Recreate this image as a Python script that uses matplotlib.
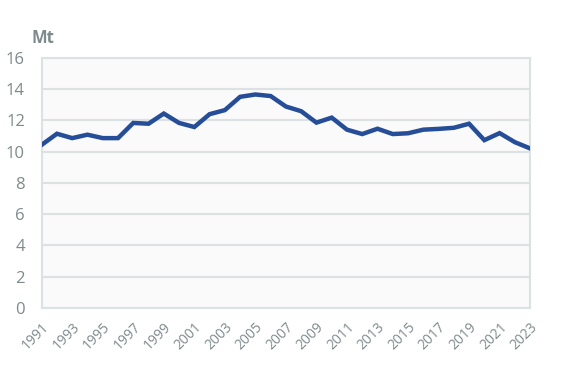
import matplotlib
matplotlib.use("Agg")
import matplotlib.pyplot as plt
from matplotlib.transforms import ScaledTranslation

years = list(range(1991, 2024))
values = [10.43, 11.14, 10.86, 11.08, 10.86, 10.86, 11.83, 11.78, 12.43, 11.83,
          11.57, 12.39, 12.65, 13.5, 13.65, 13.55, 12.88, 12.58, 11.85, 12.17,
          11.4, 11.12, 11.46, 11.12, 11.17, 11.4, 11.45, 11.52, 11.78, 10.73,
          11.18, 10.6, 10.2]
xtick_years = list(range(1991, 2024, 2))
yticks = list(range(0, 17, 2))
unit_label = "Mt"

plt.rcParams['font.family'] = ['Open Sans', 'DejaVu Sans']
grey = "#7F8A8C"
gridc = "#DCE1E3"

fig = plt.figure(figsize=(5.67, 3.69), dpi=100)
ax = fig.add_axes([0.0735, 0.1653, 0.8615, 0.6783])
ax.set_facecolor("#FAFAFA")
ax.plot(years, values, color="#264D97", linewidth=3.2, solid_joinstyle="miter", zorder=3)
ax.set_xlim(1991, 2023)
ax.set_ylim(0, 16)
ax.set_yticks(yticks)
ax.set_xticks(xtick_years)
ax.set_xticklabels([str(y) for y in xtick_years], rotation=45, ha="right", va="top",
                   rotation_mode="anchor", fontsize=10, color=grey)
offset = ScaledTranslation(5 / 72, 0, fig.dpi_scale_trans)
for lbl in ax.get_xticklabels():
    lbl.set_transform(lbl.get_transform() + offset)
ax.tick_params(axis="y", labelsize=12, colors=grey, length=0, pad=12)
ax.tick_params(axis="x", length=0, pad=8.5)
ax.grid(axis="y", color=gridc, linewidth=1.5, zorder=1)
for s in ax.spines.values():
    s.set_color(gridc)
    s.set_linewidth(1.5)
fig.text(0.056, 0.897, unit_label, fontsize=12, fontweight="bold", color=grey, ha="left", va="center")
fig.savefig("out.png", dpi=100)
